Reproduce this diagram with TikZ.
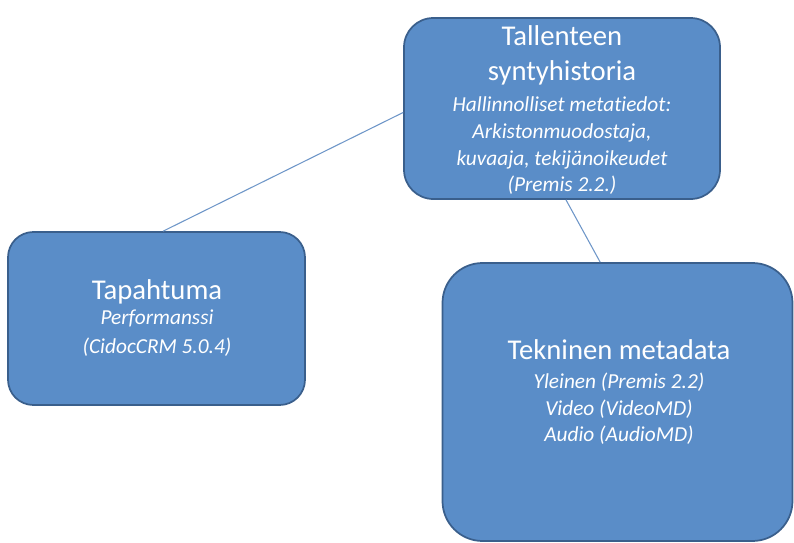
\documentclass[tikz,border=0pt]{standalone}
\usepackage{fontspec}
\setmainfont[Ligatures=NoCommon]{Carlito}
\definecolor{boxfill}{RGB}{90,141,200}
\definecolor{boxline}{RGB}{58,95,140}
\definecolor{conn}{RGB}{110,150,200}
\begin{document}
\begin{tikzpicture}[x=0.75pt,y=-0.75pt,
  box/.style={draw=boxline,fill=boxfill,line width=1.3pt,inner sep=0pt},
  ttl/.style={text=white,align=center,inner sep=0pt,font=\fontsize{21.5}{26.25}\selectfont},
  sub/.style={text=white,align=center,inner sep=0pt,font=\fontsize{16}{20}\selectfont\itshape},
  conn/.style={draw=conn,line width=0.8pt}]
\useasboundingbox (0,0) rectangle (794,543);
\node[box,rounded corners=22pt,minimum width=316*0.75pt,minimum height=181*0.75pt] (top) at (562,108.5) {};
\node[box,rounded corners=19pt,minimum width=297*0.75pt,minimum height=173*0.75pt] (left) at (156.5,318.5) {};
\node[box,rounded corners=30pt,minimum width=350*0.75pt,minimum height=278*0.75pt] (right) at (617.5,402) {};
\node[ttl] (toptitle) at (562,55) {Tallenteen\\ syntyhistoria};
\node[sub] (topsub) at (562,146) {Hallinnolliset metatiedot:\\ Arkistonmuodostaja,\\ kuvaaja, tekijänoikeudet\\ (Premis 2.2.)};
\node[ttl] (lefttitle) at (157,292) {Tapahtuma};
\node[sub,font=\fontsize{16}{22}\selectfont\itshape] (leftsub) at (157,333) {Performanssi\\ (CidocCRM 5.0.4)};
\node[ttl] (righttitle) at (619,350) {Tekninen metadata};
\node[sub] (rightsub) at (619,409) {Yleinen (Premis 2.2)\\ Video (VideoMD)\\ Audio (AudioMD)};
\draw[conn] ([yshift=-3pt]top.west) -- ([xshift=5pt]left.north);
\draw[conn] ([xshift=3pt]top.south) -- ([xshift=-13pt]right.north);
\end{tikzpicture}
\end{document}
